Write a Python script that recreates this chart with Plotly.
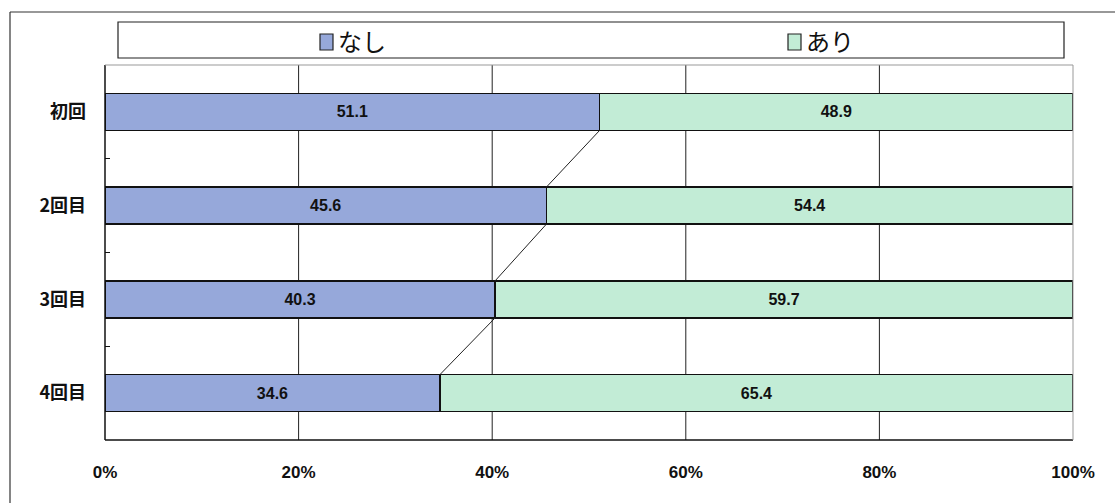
import plotly.graph_objects as go

# Survey rounds and share (%) of each answer
rounds = ["初回", "2回目", "3回目", "4回目"]
nashi = [51.1, 45.6, 40.3, 34.6]
ari = [48.9, 54.4, 59.7, 65.4]
x_ticks = [0, 20, 40, 60, 80, 100]
x_tick_labels = ["0%", "20%", "40%", "60%", "80%", "100%"]

BLUE = "#96A8DA"
GREEN = "#C2ECD6"
BAR_W = 0.395
pos = list(range(len(rounds)))

W, H = 1115, 503
ML, MR, MT, MB = 105, 42, 65, 63
PW, PH = W - ML - MR, H - MT - MB


def px(x):
    return (x - ML) / PW


def py(y):
    return (H - MB - y) / PH


label_font = dict(family="Liberation Sans, Arial", size=16, color="#111", weight="bold")

fig = go.Figure()

fig.add_trace(go.Bar(
    y=pos, x=nashi, orientation="h", name="なし", width=BAR_W,
    marker=dict(color=BLUE, line=dict(color="#111", width=1.5)),
    text=[f"{v:.1f}" for v in nashi], textposition="inside",
    insidetextanchor="middle", textfont=label_font,
    showlegend=False,
))
fig.add_trace(go.Bar(
    y=pos, x=ari, orientation="h", name="あり", width=BAR_W,
    marker=dict(color=GREEN, line=dict(color="#111", width=1.5)),
    text=[f"{v:.1f}" for v in ari], textposition="inside",
    insidetextanchor="middle", textfont=label_font,
    showlegend=False,
))

# Connector lines between the ends of consecutive "なし" segments
for i in range(len(rounds) - 1):
    fig.add_trace(go.Scatter(
        x=[nashi[i], nashi[i + 1]],
        y=[pos[i] + BAR_W / 2, pos[i + 1] - BAR_W / 2],
        mode="lines", line=dict(color="#222", width=1),
        hoverinfo="skip", showlegend=False,
    ))

shapes = []
# Vertical gridlines
for v in x_ticks[1:-1]:
    shapes.append(dict(type="line", xref="x", yref="paper", x0=v, x1=v, y0=0, y1=1,
                       line=dict(color="#222", width=1), layer="below"))
# Plot frame: dark left/bottom, light top/right
shapes += [
    dict(type="line", xref="paper", yref="paper", x0=0, x1=0, y0=0, y1=1,
         line=dict(color="#111", width=1.5)),
    dict(type="line", xref="paper", yref="paper", x0=0, x1=1, y0=0, y1=0,
         line=dict(color="#111", width=1.5)),
    dict(type="line", xref="paper", yref="paper", x0=0, x1=1, y0=1, y1=1,
         line=dict(color="#999", width=1)),
    dict(type="line", xref="paper", yref="paper", x0=1, x1=1, y0=0, y1=1,
         line=dict(color="#999", width=1)),
]
# Outer chart frame (left and top edges)
shapes += [
    dict(type="line", xref="paper", yref="paper", x0=px(10), x1=px(10), y0=py(H), y1=py(12),
         line=dict(color="#333", width=1.2)),
    dict(type="line", xref="paper", yref="paper", x0=px(10), x1=px(W), y0=py(12), y1=py(12),
         line=dict(color="#333", width=1.2)),
]
# Legend box and swatches
shapes.append(dict(type="rect", xref="paper", yref="paper",
                   x0=px(118), x1=px(1064), y0=py(58), y1=py(22),
                   line=dict(color="#222", width=1.2), fillcolor="white"))
shapes.append(dict(type="rect", xref="paper", yref="paper",
                   x0=px(320), x1=px(333), y0=py(50), y1=py(34),
                   line=dict(color="#222", width=1.2), fillcolor=BLUE))
shapes.append(dict(type="rect", xref="paper", yref="paper",
                   x0=px(788), x1=px(801), y0=py(50), y1=py(34),
                   line=dict(color="#222", width=1.2), fillcolor=GREEN))

annotations = [
    dict(xref="paper", yref="paper", x=px(336), y=py(41), xanchor="left", yanchor="middle",
         text="なし", showarrow=False,
         font=dict(family="Noto Sans CJK JP", size=24, color="#111")),
    dict(xref="paper", yref="paper", x=px(804), y=py(41), xanchor="left", yanchor="middle",
         text="あり", showarrow=False,
         font=dict(family="Noto Sans CJK JP", size=24, color="#111")),
]

fig.update_layout(
    width=W, height=H,
    margin=dict(l=ML, r=MR, t=MT, b=MB),
    paper_bgcolor="white", plot_bgcolor="white",
    barmode="stack",
    shapes=shapes,
    annotations=annotations,
    xaxis=dict(
        range=[0, 100], tickvals=x_ticks, ticktext=x_tick_labels,
        showgrid=False, zeroline=False, showline=False, ticks="",
        ticklabelstandoff=20,
        tickfont=dict(family="Liberation Sans Narrow, Liberation Sans, Arial", size=17, color="#111",
                      weight="bold"),
        fixedrange=True,
    ),
    yaxis=dict(
        range=[3.5, -0.5], tickvals=pos, ticktext=rounds,
        showgrid=False, zeroline=False, showline=False, ticks="",
        ticklabelstandoff=18,
        tickfont=dict(family="Noto Sans CJK JP", size=18, color="#111", weight="bold"),
        minor=dict(tickvals=[0.5, 1.5, 2.5], ticks="inside", ticklen=5,
                   tickcolor="#111", tickwidth=1),
        fixedrange=True,
    ),
)

fig.write_html("out.html")
